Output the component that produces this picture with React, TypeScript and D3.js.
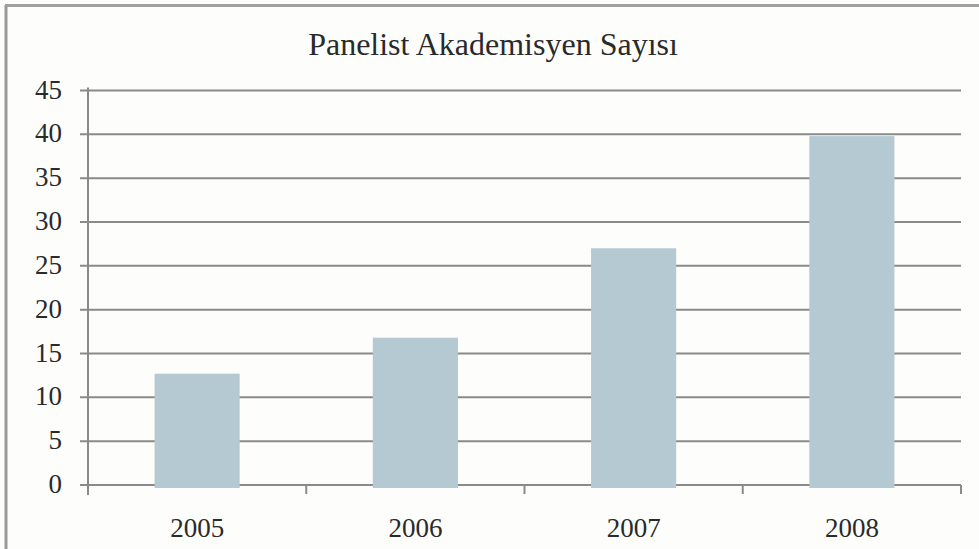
import React from "react";
import * as d3 from "d3";

const categories = ["2005", "2006", "2007", "2008"];
const values = [12.7, 16.8, 27, 39.8];
const yTicks = [0, 5, 10, 15, 20, 25, 30, 35, 40, 45];
const title = "Panelist Akademisyen Sayısı";

const W = 979;
const H = 549;
const M = { left: 88, right: 961, top: 90.5, bottom: 485 };

export default function App() {
  const x = d3.scaleBand<string>().domain(categories).range([M.left, M.right]).paddingInner(0.61).paddingOuter(0.305);
  const xTickScale = d3.scaleLinear().domain([0, categories.length]).range([M.left, M.right]);
  const y = d3.scaleLinear().domain([0, 45]).range([M.bottom, M.top]);
  const font = "'Liberation Serif', 'DejaVu Serif', serif";
  return (
    <svg width={W} height={H} style={{ position: "absolute", left: 0, top: 0 }}>
      <rect x={0} y={0} width={W} height={H} fill="#fdfdfb" />
      <line x1={6} y1={5} x2={6} y2={H} stroke="#9a9a9a" strokeWidth={3} />
      <line x1={5} y1={5.5} x2={W} y2={5.5} stroke="#a0a0a0" strokeWidth={3} />
      <text x={493} y={55} textAnchor="middle" fontFamily={font} fontSize={32} fill="#2a2a2a">{title}</text>
      {yTicks.map((t) => (
        <g key={t}>
          <line x1={M.left - 8} x2={M.right} y1={y(t)} y2={y(t)} stroke="#8a8a8a" strokeWidth={2} />
          <text x={62} y={y(t) + 8} textAnchor="end" fontFamily={font} fontSize={27} fill="#2a2a2a">{t}</text>
        </g>
      ))}
      <line x1={M.left} x2={M.left} y1={M.top - 3} y2={M.bottom + 10} stroke="#8a8a8a" strokeWidth={2} />
      {d3.range(categories.length + 1).map((i) => (
        <line key={i} x1={xTickScale(i)} x2={xTickScale(i)} y1={M.bottom} y2={M.bottom + 9} stroke="#8a8a8a" strokeWidth={2} />
      ))}
      {categories.map((c, i) => (
        <rect key={c} x={x(c)} y={y(values[i])} width={x.bandwidth()} height={y(0) - y(values[i]) + 3} fill="#b5c9d3" />
      ))}
      {categories.map((c) => (
        <text key={c} x={(x(c) as number) + x.bandwidth() / 2} y={537} textAnchor="middle" fontFamily={font} fontSize={27} fill="#2a2a2a">{c}</text>
      ))}
    </svg>
  );
}
